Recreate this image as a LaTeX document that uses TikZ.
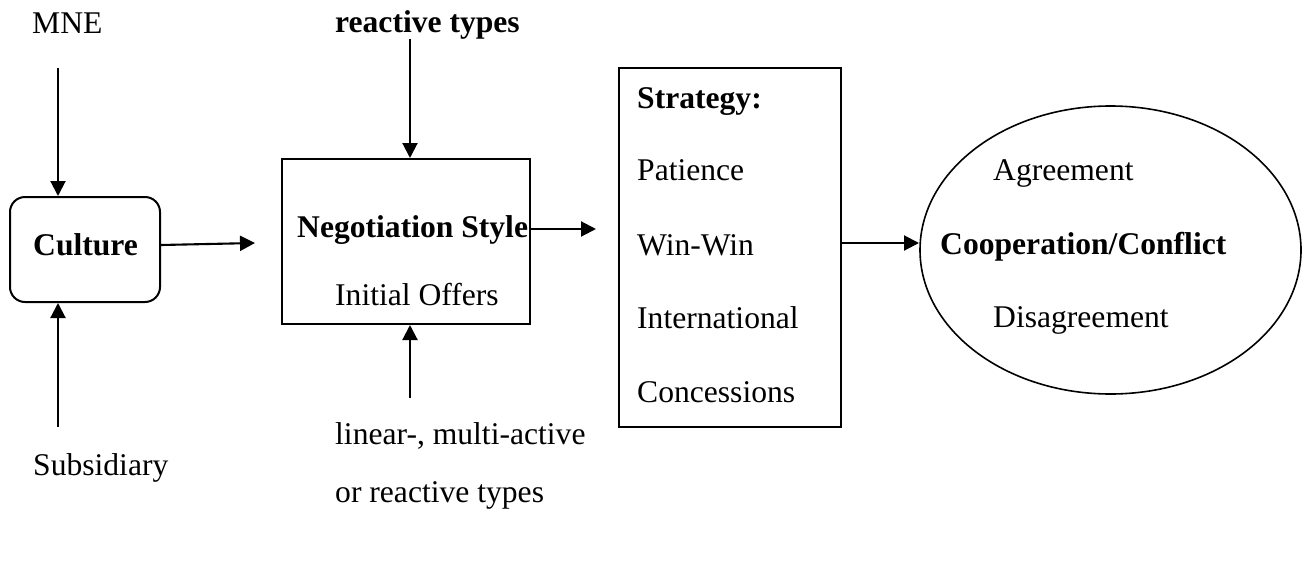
\documentclass[tikz,border=0pt]{standalone}
\usepackage{fontspec}
\setmainfont{Liberation Serif}
\usetikzlibrary{arrows.meta,shapes.geometric}
\tikzset{
  txt/.style={anchor=base west, inner sep=0pt, font=\fontsize{31.6}{38}\selectfont},
  btxt/.style={txt, font=\fontsize{31.6}{38}\selectfont\bfseries},
  boxline/.style={draw, line width=2pt, inner sep=0pt},
  arr/.style={line width=2.1pt, -{Triangle[length=15pt,width=15pt]}},
}
\begin{document}
\begin{tikzpicture}[x=1pt,y=-1pt]
\useasboundingbox (0,0) rectangle (1307,560);
% boxes
\node[boxline, rounded corners=15pt, minimum width=150pt, minimum height=105pt] (culture) at (85,249.5) {};
\node[boxline, minimum width=248pt, minimum height=165pt] (neg) at (406,241.5) {};
\node[boxline, minimum width=222pt, minimum height=359pt] (strat) at (730,247.5) {};
\node[draw, line width=1.6pt, ellipse, inner sep=0pt, minimum width=381pt, minimum height=288pt] (ell) at (1110.5,250) {};
% texts
\node[txt] (mne) at (32,33) {MNE};
\node[txt] (sub) at (33,475) {Subsidiary};
\node[btxt] (cult) at (33,255) {Culture};
\node[btxt] (rt) at (335,32) {reactive types};
\node[btxt] (ns) at (297,237) {Negotiation Style};
\node[txt] (io) at (335,305) {Initial Offers};
\node[txt] (lin) at (335,444) {linear-, multi-active};
\node[txt] (orr) at (335,502) {or reactive types};
\node[btxt] (st) at (637,108) {Strategy:};
\node[txt] (pat) at (637,180) {Patience};
\node[txt] (ww) at (637,255) {Win-Win};
\node[txt] (intl) at (637,328) {International};
\node[txt] (con) at (637,402) {Concessions};
\node[txt] (agr) at (993,180) {Agreement};
\node[btxt] (coop) at (940,254) {Cooperation/Conflict};
\node[txt] (dis) at (993,327) {Disagreement};
% arrow end points
\coordinate (mneS) at (58,68);
\coordinate (subN) at (58,427);
\coordinate (cultA) at (160,245);
\coordinate (cultE) at (255,243);
\coordinate (rtS) at (410,39);
\coordinate (linN) at (410,398);
\coordinate (negE) at (596,229);
\coordinate (stratA) at (841,243);
\coordinate (ellW) at (919,243);
% connectors
\draw[arr] (mneS) -- (mneS |- culture.north);
\draw[arr] (subN) -- (subN |- culture.south);
\draw[arr] (cultA -| culture.east) -- (cultE);
\draw[arr] (rtS) -- (rtS |- neg.north);
\draw[arr] (linN) -- (linN |- neg.south);
\draw[arr] (negE -| neg.east) -- (negE);
\draw[arr] (stratA -| strat.east) -- (ellW);
\end{tikzpicture}
\end{document}
